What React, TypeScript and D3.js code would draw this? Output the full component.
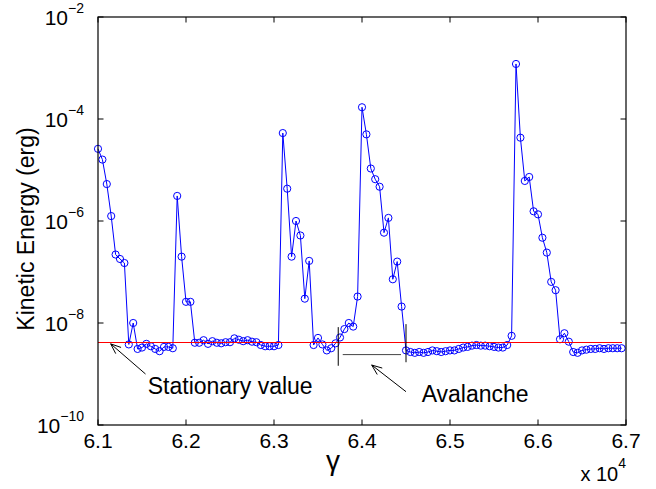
import React from "react";
import * as d3 from "d3";

const GAMMA = [
  61000, 61050, 61100, 61150, 61200, 61250, 61300, 61350, 61400, 61450,
  61500, 61550, 61600, 61650, 61700, 61750, 61800, 61850, 61900, 61950,
  62000, 62050, 62100, 62150, 62200, 62250, 62300, 62350, 62400, 62450,
  62500, 62550, 62600, 62650, 62700, 62750, 62800, 62850, 62900, 62950,
  63000, 63050, 63100, 63150, 63200, 63250, 63300, 63350, 63400, 63450,
  63500, 63550, 63600, 63650, 63700, 63750, 63800, 63850, 63900, 63950,
  64000, 64050, 64100, 64150, 64200, 64250, 64300, 64350, 64400, 64450,
  64500, 64550, 64600, 64650, 64700, 64750, 64800, 64850, 64900, 64950,
  65000, 65050, 65100, 65150, 65200, 65250, 65300, 65350, 65400, 65450,
  65500, 65550, 65600, 65650, 65700, 65750, 65800, 65850, 65900, 65950,
  66000, 66050, 66100, 66150, 66200, 66250, 66300, 66350, 66400, 66450,
  66500, 66550, 66600, 66650, 66700, 66750, 66800, 66850, 66900, 66950,
];

const KINETIC = [
  2.6e-5, 1.6e-5, 5.3e-6, 1.25e-6, 2.2e-7, 1.8e-7, 1.5e-7, 3.8e-9, 1.0e-8, 3.1e-9,
  3.3e-9, 3.9e-9, 3.5e-9, 3.1e-9, 2.8e-9, 3.4e-9, 3.4e-9, 3.2e-9, 3.1e-6, 2.0e-7,
  2.6e-8, 2.6e-8, 4.1e-9, 4.1e-9, 4.6e-9, 3.9e-9, 4.4e-9, 4.1e-9, 4.0e-9, 4.2e-9,
  4.2e-9, 5.0e-9, 4.7e-9, 4.4e-9, 4.6e-9, 4.3e-9, 4.2e-9, 3.7e-9, 3.5e-9, 3.5e-9,
  3.5e-9, 3.7e-9, 5.3e-5, 4.3e-6, 2.0e-7, 1.0e-6, 5.2e-7, 3.0e-8, 1.65e-7, 3.7e-9,
  5.1e-9, 3.8e-9, 2.9e-9, 3.2e-9, 4.0e-9, 5.2e-9, 7.6e-9, 1.0e-8, 8.5e-9, 3.3e-8,
  1.7e-4, 5.0e-5, 1.07e-5, 6.6e-6, 4.7e-6, 5.9e-7, 1.15e-6, 7.2e-8, 1.6e-7, 2.1e-8,
  2.9e-9, 2.7e-9, 2.6e-9, 2.7e-9, 2.6e-9, 2.7e-9, 2.9e-9, 2.8e-9, 2.7e-9, 2.8e-9,
  2.9e-9, 2.9e-9, 3.1e-9, 3.3e-9, 3.4e-9, 3.6e-9, 3.7e-9, 3.6e-9, 3.6e-9, 3.5e-9,
  3.4e-9, 3.3e-9, 3.3e-9, 3.7e-9, 5.6e-9, 1.2e-3, 4.3e-5, 6.1e-6, 7.3e-6, 1.55e-6,
  1.35e-6, 4.7e-7, 2.4e-7, 6.4e-8, 4.4e-8, 4.8e-9, 6.3e-9, 4.3e-9, 2.7e-9, 2.6e-9,
  2.9e-9, 3.0e-9, 3.1e-9, 3.1e-9, 3.2e-9, 3.1e-9, 3.2e-9, 3.2e-9, 3.2e-9, 3.2e-9,
];

const STATIONARY = 4.33e-9;

const X_TICKS = [61000, 62000, 63000, 64000, 65000, 66000, 67000];
const X_TICK_LABELS = ["6.1", "6.2", "6.3", "6.4", "6.5", "6.6", "6.7"];
const Y_TICKS = [1e-10, 1e-8, 1e-6, 1e-4, 1e-2];
const Y_TICK_EXPONENTS = ["\u221210", "\u22128", "\u22126", "\u22124", "\u22122"];

const Y_LABEL = "Kinetic Energy (erg)";
const X_LABEL = "\u03b3";
const X_MULTIPLIER_EXP = "4";

// annotations in data coordinates
const STATIONARY_NOTE = { text: "Stationary value", tip: [61144, 3.9e-9], tail: [61540, 1.0e-9], label: [61565, 4.06e-10] };
const AVALANCHE_NOTE = { text: "Avalanche", tip: [64110, 1.5e-9], tail: [64500, 4.5e-10], label: [64678, 2.86e-10] };
const AVALANCHE_SPAN = { start: 63730, end: 64500, low: 1.45e-9, high: 8.3e-9, highEnd: 9.5e-9, lowEnd: 1.7e-9, mid: 2.4e-9 };

const W = 656;
const H = 489;
const LEFT = 98;
const RIGHT = 626;
const TOP = 17;
const BOTTOM = 425;
const FONT = "'Liberation Sans', Arial, Helvetica, sans-serif";

function Arrow({ from, to }: { from: [number, number]; to: [number, number] }) {
  const ang = Math.atan2(to[1] - from[1], to[0] - from[0]);
  const len = 11;
  const spread = 0.38;
  const a1 = ang + Math.PI - spread;
  const a2 = ang + Math.PI + spread;
  return (
    <g stroke="#000" strokeWidth={1} fill="none">
      <line x1={from[0]} y1={from[1]} x2={to[0]} y2={to[1]} />
      <line x1={to[0]} y1={to[1]} x2={to[0] + len * Math.cos(a1)} y2={to[1] + len * Math.sin(a1)} />
      <line x1={to[0]} y1={to[1]} x2={to[0] + len * Math.cos(a2)} y2={to[1] + len * Math.sin(a2)} />
    </g>
  );
}

export default function App() {
  const x = d3.scaleLinear().domain([61000, 67000]).range([LEFT, RIGHT]);
  const y = d3.scaleLog().domain([1e-10, 1e-2]).range([BOTTOM, TOP]);
  const pts = GAMMA.map((g, i) => [g, KINETIC[i]] as [number, number]);
  const line = d3
    .line<[number, number]>()
    .x((d) => x(d[0]))
    .y((d) => y(d[1]));

  const tickLen = 5.5;
  const p = (d: number[]) => [x(d[0]), y(d[1])] as [number, number];
  const ys = Math.round(y(STATIONARY)) + 0.5;

  return (
    <svg
      width={W}
      height={H}
      style={{ position: "absolute", left: 0, top: 0, background: "#fff" }}
      fontFamily={FONT}
    >
      <rect x={0} y={0} width={W} height={H} fill="#fff" />
      {/* data */}
      <path d={line(pts) || ""} fill="none" stroke="#0000ff" strokeWidth={1} />
      {pts.map((d, i) => (
        <circle key={i} cx={x(d[0])} cy={y(d[1])} r={3.6} fill="none" stroke="#0000ff" strokeWidth={1} />
      ))}
      {/* stationary line */}
      <line
        x1={x(GAMMA[0])}
        x2={x(GAMMA[GAMMA.length - 1])}
        y1={ys}
        y2={ys}
        stroke="#ff0000"
        strokeWidth={1.2}
        shapeRendering="crispEdges"
      />

      {/* axes box */}
      <rect x={LEFT} y={TOP} width={RIGHT - LEFT} height={BOTTOM - TOP} fill="none" stroke="#000" strokeWidth={1.2} />
      {X_TICKS.map((t, i) => (
        <g key={"xt" + i}>
          <line x1={x(t)} x2={x(t)} y1={BOTTOM} y2={BOTTOM - tickLen} stroke="#000" />
          <line x1={x(t)} x2={x(t)} y1={TOP} y2={TOP + tickLen} stroke="#000" />
          <text x={x(t)} y={448} textAnchor="middle" fontSize={21} fill="#000">
            {X_TICK_LABELS[i]}
          </text>
        </g>
      ))}
      {Y_TICKS.map((t, i) => (
        <g key={"yt" + i}>
          <line x1={LEFT} x2={LEFT + tickLen} y1={y(t)} y2={y(t)} stroke="#000" />
          <line x1={RIGHT} x2={RIGHT - tickLen} y1={y(t)} y2={y(t)} stroke="#000" />
          <text x={84} y={y(t) + 8} textAnchor="end" fontSize={21} fill="#000">
            10
            <tspan fontSize={14} dy={-12}>
              {Y_TICK_EXPONENTS[i]}
            </tspan>
          </text>
        </g>
      ))}

      {/* axis labels */}
      <text
        transform={`translate(34, ${(TOP + BOTTOM) / 2 + 8}) rotate(-90)`}
        textAnchor="middle"
        fontSize={23}
        fill="#000"
      >
        {Y_LABEL}
      </text>
      <text x={(LEFT + RIGHT) / 2 - 29} y={470} textAnchor="middle" fontSize={28} fill="#000">
        {X_LABEL}
      </text>
      <text x={RIGHT} y={481} textAnchor="end" fontSize={20} fill="#000">
        x 10
        <tspan fontSize={14} dy={-13}>
          {X_MULTIPLIER_EXP}
        </tspan>
      </text>

      {/* annotations */}
      <Arrow from={p(STATIONARY_NOTE.tail)} to={p(STATIONARY_NOTE.tip)} />
      <text x={p(STATIONARY_NOTE.label)[0]} y={p(STATIONARY_NOTE.label)[1]} fontSize={23} fill="#000">
        {STATIONARY_NOTE.text}
      </text>
      <Arrow from={p(AVALANCHE_NOTE.tail)} to={p(AVALANCHE_NOTE.tip)} />
      <text x={p(AVALANCHE_NOTE.label)[0]} y={p(AVALANCHE_NOTE.label)[1]} fontSize={23} fill="#000">
        {AVALANCHE_NOTE.text}
      </text>
      <line
        x1={x(AVALANCHE_SPAN.start)}
        x2={x(AVALANCHE_SPAN.start)}
        y1={y(AVALANCHE_SPAN.high)}
        y2={y(AVALANCHE_SPAN.low)}
        stroke="#000"
      />
      <line
        x1={x(AVALANCHE_SPAN.end)}
        x2={x(AVALANCHE_SPAN.end)}
        y1={y(AVALANCHE_SPAN.highEnd)}
        y2={y(AVALANCHE_SPAN.lowEnd)}
        stroke="#000"
      />
      <line
        x1={x(AVALANCHE_SPAN.start) + 4.5}
        x2={x(AVALANCHE_SPAN.end) - 5}
        y1={y(AVALANCHE_SPAN.mid)}
        y2={y(AVALANCHE_SPAN.mid)}
        stroke="#444"
      />
    </svg>
  );
}
